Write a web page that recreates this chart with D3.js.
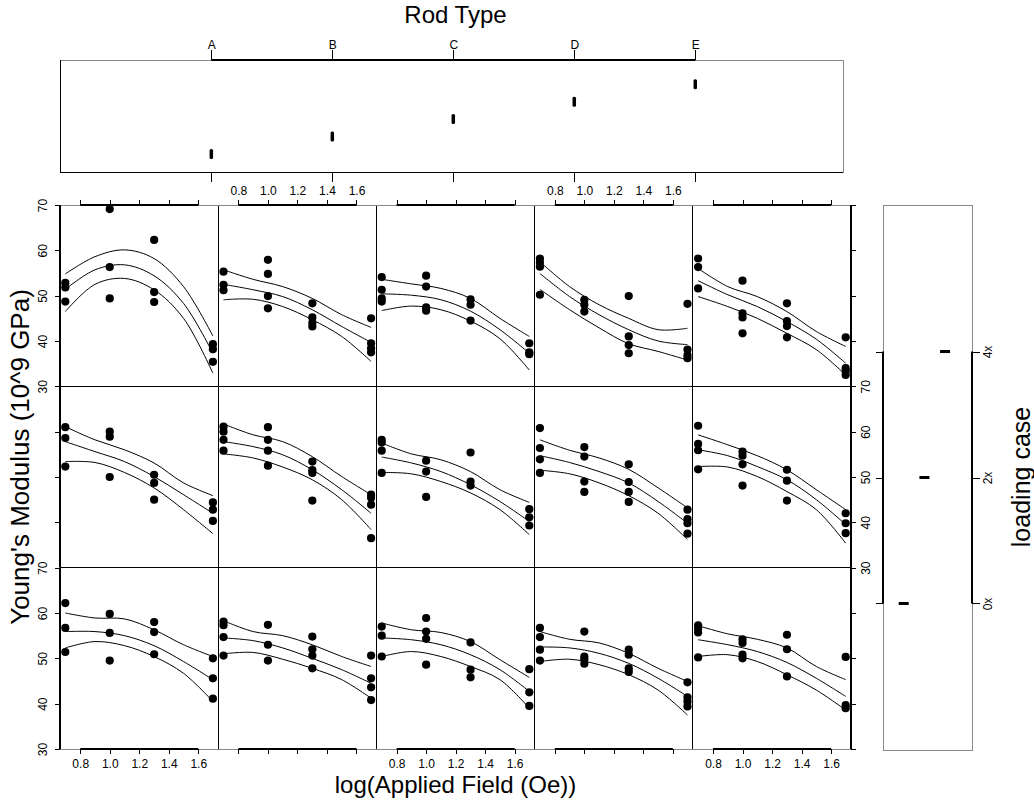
<!DOCTYPE html>
<meta charset="utf-8">
<style>
body { margin: 0; background: #fff; }
text { font-family: "Liberation Sans", Arial, Helvetica, sans-serif; fill: #000; }
.title { text-anchor: middle; }
</style>
<svg width="1034" height="807"></svg>
<script src="https://d3js.org/d3.v7.min.js"></script>
<script>

var rodTypes = ["A", "B", "C", "D", "E"];
var loadCases = ["0x", "2x", "4x"];
var fieldLog = [0.699, 1.0, 1.301, 1.699];
var fitX = [0.699, 0.9, 1.1, 1.3, 1.5, 1.699];
var xTicks = [0.8, 1.0, 1.2, 1.4, 1.6];
var yTicks = [30, 40, 50, 60, 70];

// Young's modulus readings, per rod type, per field level
var modulus0x = [
  [[62.2, 56.7, 51.4], [59.8, 55.6, 49.5], [58.0, 55.8, 50.9], [50.0, 45.6, 41.1]],
  [[58.1, 57.3, 54.7, 50.6], [57.4, 53.0, 49.5], [54.8, 52.0, 50.6, 47.8], [50.6, 45.6, 43.6, 40.8]],
  [[57.0, 55.0, 50.4], [58.9, 55.9, 54.3, 48.6], [53.5, 47.5, 45.8], [47.6, 42.5, 39.5]],
  [[56.7, 54.7, 51.9, 49.5], [55.9, 50.4, 49.8, 48.8], [51.9, 50.8, 47.8, 47.0], [44.7, 41.4, 40.5, 39.4]],
  [[57.3, 56.5, 55.7, 50.2], [54.2, 53.4, 50.8, 50.0], [55.2, 52.0, 46.0], [50.3, 39.7, 39.0]]
];
var modulus2x = [
  [[61.0, 58.6, 52.3], [60.0, 58.9, 50.0], [50.5, 48.7, 45.0], [44.4, 42.8, 40.3]],
  [[61.1, 60.0, 58.2, 55.8], [61.0, 58.2, 55.8, 52.5], [53.4, 51.5, 50.9, 44.8], [46.1, 45.4, 43.9, 36.5]],
  [[58.2, 57.6, 55.8, 50.9], [53.6, 51.2, 45.6], [55.4, 49.0, 48.1], [42.9, 41.1, 39.3]],
  [[60.8, 56.4, 53.9, 50.9], [56.6, 54.5, 49.0, 46.7], [52.8, 48.9, 46.7, 44.5], [42.8, 40.7, 39.8, 37.5]],
  [[61.3, 57.3, 55.9, 51.7], [55.6, 54.7, 52.8, 48.1], [51.6, 49.2, 44.8], [42.0, 39.8, 37.6]]
];
var modulus4x = [
  [[52.8, 51.8, 48.7], [69.1, 56.3, 49.4], [62.3, 50.8, 48.6], [39.3, 38.2, 35.4]],
  [[55.3, 52.4, 51.2], [57.9, 54.8, 49.9, 47.2], [48.3, 45.2, 44.0, 43.2], [45.0, 39.5, 38.4, 37.5]],
  [[54.1, 51.3, 49.4, 48.7], [54.4, 52.0, 47.4, 46.7], [49.2, 48.0, 44.5], [39.5, 37.5, 37.1]],
  [[58.2, 57.3, 56.4, 50.2], [49.1, 48.0, 46.5], [49.9, 41.0, 39.1, 37.3], [48.2, 38.1, 36.9, 36.2]],
  [[58.2, 56.3, 51.6], [53.3, 46.1, 45.2, 41.7], [48.3, 44.4, 43.3, 40.8], [40.8, 34.0, 33.3, 32.5]]
];

// fitted curve with its upper / lower band, read at fitX
var fit0x = [
  [[60.0, 58.9, 58.7, 56.3, 53.0, 50.4], [55.9, 55.9, 55.0, 52.8, 49.3, 45.3], [52.3, 53.7, 52.8, 50.4, 46.7, 40.5]],
  [[58.3, 55.9, 55.0, 53.0, 50.4, 48.2], [54.5, 53.9, 52.3, 50.0, 47.5, 44.5], [51.0, 51.3, 49.8, 47.8, 45.3, 41.2]],
  [[57.8, 56.3, 55.7, 53.7, 49.7, 45.8], [54.5, 54.1, 53.0, 50.8, 47.5, 42.7], [50.4, 51.5, 50.4, 48.2, 45.3, 39.0]],
  [[55.9, 54.2, 53.4, 51.1, 47.8, 44.9], [52.5, 52.3, 51.1, 48.9, 45.6, 41.6], [49.3, 49.8, 48.6, 46.4, 43.0, 37.5]],
  [[57.2, 55.4, 54.2, 52.3, 48.2, 45.3], [54.1, 53.0, 51.5, 49.1, 45.6, 41.6], [50.4, 50.8, 49.3, 46.4, 43.0, 38.6]]
];
var fit2x = [
  [[61.1, 58.2, 56.0, 53.1, 48.7, 45.9], [57.8, 55.6, 53.4, 50.1, 46.1, 42.0], [53.4, 53.2, 51.0, 47.6, 42.8, 37.5]],
  [[61.7, 59.3, 57.8, 54.5, 50.1, 46.1], [57.8, 56.7, 54.9, 51.6, 47.2, 42.0], [55.1, 54.2, 52.2, 49.4, 45.0, 38.4]],
  [[57.5, 55.1, 53.8, 51.2, 47.2, 44.4], [54.4, 53.1, 51.2, 48.3, 44.6, 40.2], [51.0, 50.7, 49.0, 46.5, 42.8, 37.3]],
  [[58.2, 55.9, 54.2, 51.7, 47.6, 43.2], [54.7, 53.2, 51.2, 48.7, 44.6, 39.8], [51.5, 50.7, 48.7, 45.9, 42.0, 36.2]],
  [[59.3, 57.1, 54.7, 51.6, 47.2, 42.8], [56.0, 54.7, 52.3, 49.4, 45.0, 39.5], [52.3, 52.2, 50.1, 46.8, 42.8, 35.4]]
];
var fit4x = [
  [[54.8, 58.6, 60.1, 58.2, 52.0, 41.1], [51.4, 55.7, 56.8, 54.4, 48.3, 37.3], [46.5, 52.5, 53.8, 51.3, 45.0, 32.9]],
  [[55.7, 53.6, 52.0, 49.4, 45.8, 43.0], [52.5, 51.3, 49.8, 46.9, 43.2, 39.7], [49.1, 49.2, 47.6, 44.7, 41.0, 35.5]],
  [[53.6, 52.6, 51.6, 49.4, 45.0, 41.0], [50.4, 50.1, 49.1, 46.6, 42.5, 37.3], [46.7, 47.7, 46.9, 44.4, 40.5, 33.6]],
  [[57.5, 52.0, 48.0, 45.0, 42.5, 42.8], [54.9, 49.8, 45.8, 42.5, 40.0, 39.2], [51.4, 46.9, 42.9, 39.4, 37.7, 35.8]],
  [[56.0, 52.0, 49.8, 46.5, 42.1, 38.8], [53.3, 50.2, 47.6, 44.3, 40.4, 35.1], [49.8, 47.6, 45.0, 41.7, 38.1, 32.5]]
];

// marginal strips
var rodLevel = [1, 2, 3, 4, 5];
var loadLevel = [1, 2, 3];

var svg = d3.select("svg"),
    pLeft = 60, pRight = 851, pTop = 205, pBottom = 749,
    pw = (pRight - pLeft) / rodTypes.length,
    ph = (pBottom - pTop) / loadCases.length,
    font = "'Liberation Sans', Arial, Helvetica, sans-serif",
    blank = function() { return ""; };

svg.append("rect").attr("width", 1034).attr("height", 807).attr("fill", "#fff");

var x = d3.scaleLinear().domain([fieldLog[0] - 0.036, fieldLog[3] + 0.036]).range([0, pw]),
    y = d3.scaleLinear().domain([30, 70]).range([ph, 0]);

var line = d3.line()
    .x(function(d, i) { return x(fitX[i]); })
    .y(function(d) { return y(d); })
    .curve(d3.curveCatmullRom.alpha(0.5));

var points = [modulus0x, modulus2x, modulus4x],
    fits = [fit0x, fit2x, fit4x];

// panels
loadCases.forEach(function(lc, li) {
  var row = loadCases.length - 1 - li;
  rodTypes.forEach(function(rod, ci) {
    var g = svg.append("g")
        .attr("transform", "translate(" + (pLeft + ci * pw) + "," + (pTop + row * ph) + ")");

    fits[li][ci].forEach(function(f) {
      g.append("path").attr("d", line(f))
          .attr("fill", "none").attr("stroke", "#000").attr("stroke-width", 1);
    });

    points[li][ci].forEach(function(vals, fi) {
      g.selectAll(null).data(vals).enter().append("circle")
          .attr("cx", x(fieldLog[fi]))
          .attr("cy", function(d) { return y(d); })
          .attr("r", 4.1)
          .attr("fill", "#000");
    });
  });
});

// frame: inner lines black, outer box grey
var frame = svg.append("g").attr("shape-rendering", "crispEdges").attr("stroke", "#000");
for (var c = 1; c < rodTypes.length; c++) {
  frame.append("line").attr("x1", pLeft + c * pw).attr("x2", pLeft + c * pw).attr("y1", pTop).attr("y2", pBottom);
}
for (var r = 1; r < loadCases.length; r++) {
  frame.append("line").attr("x1", pLeft).attr("x2", pRight).attr("y1", pTop + r * ph).attr("y2", pTop + r * ph);
}
frame.append("rect").attr("x", pLeft).attr("y", pTop).attr("width", pRight - pLeft).attr("height", pBottom - pTop)
    .attr("fill", "none").attr("stroke", "#888");

function tidy(g) {
  g.select(".domain").remove();
  g.attr("font-size", 12).attr("font-family", font);
  g.selectAll(".tick line").attr("shape-rendering", "crispEdges");
  return g;
}
function axisLine(g, x1, y1, x2, y2) {
  g.append("line").attr("x1", x1).attr("y1", y1).attr("x2", x2).attr("y2", y2)
      .attr("stroke", "#000").attr("stroke-width", 2);
}

// x axes, labels alternate bottom / top
rodTypes.forEach(function(rod, ci) {
  var x0 = pLeft + ci * pw, onBottom = ci % 2 === 0;
  var ab = svg.append("g").attr("transform", "translate(" + x0 + "," + pBottom + ")")
      .call(d3.axisBottom(x).tickValues(xTicks).tickSize(5).tickPadding(5)
        .tickFormat(onBottom ? d3.format(".1f") : blank));
  tidy(ab); axisLine(ab, x(xTicks[0]), 0, x(xTicks[4]), 0);
  var at = svg.append("g").attr("transform", "translate(" + x0 + "," + pTop + ")")
      .call(d3.axisTop(x).tickValues(xTicks).tickSize(5).tickPadding(5)
        .tickFormat(onBottom ? blank : d3.format(".1f")));
  tidy(at); axisLine(at, x(xTicks[0]), 0, x(xTicks[4]), 0);
});

// y axes, labels alternate left / right
loadCases.forEach(function(lc, li) {
  var row = loadCases.length - 1 - li, y0 = pTop + row * ph, onLeft = row !== 1;
  var al = svg.append("g").attr("transform", "translate(" + pLeft + "," + y0 + ")")
      .call(d3.axisLeft(y).tickValues(yTicks).tickSize(5).tickFormat(onLeft ? d3.format("d") : blank));
  tidy(al); axisLine(al, 0, y(30), 0, y(70));
  al.selectAll(".tick text").attr("x", null).attr("dy", null).attr("text-anchor", "middle")
      .attr("transform", "translate(-13,0) rotate(-90)");
  var ar = svg.append("g").attr("transform", "translate(" + pRight + "," + y0 + ")")
      .call(d3.axisRight(y).tickValues(yTicks).tickSize(5).tickFormat(onLeft ? blank : d3.format("d")));
  tidy(ar); axisLine(ar, 0, y(30), 0, y(70));
  ar.selectAll(".tick text").attr("x", null).attr("dy", null).attr("text-anchor", "middle")
      .attr("transform", "translate(19,0) rotate(-90)");
});

// top strip: rod type
var rodX = d3.scalePoint().domain(rodTypes).range([60, 843]).padding(1.236).align(0.506),
    rodY = d3.scaleLinear().domain([-0.034, 6.39]).range([172, 60]);

var topBox = svg.append("g").attr("shape-rendering", "crispEdges");
topBox.append("rect").attr("x", 60).attr("y", 60).attr("width", 783).attr("height", 112)
    .attr("fill", "none").attr("stroke", "#888");
topBox.append("line").attr("x1", 60).attr("x2", 60).attr("y1", 60).attr("y2", 172).attr("stroke", "#000");
topBox.append("line").attr("x1", 60).attr("x2", 843).attr("y1", 172).attr("y2", 172).attr("stroke", "#000");

svg.append("g").selectAll("rect").data(rodTypes).enter().append("rect")
    .attr("x", function(d) { return rodX(d) - 1.75; })
    .attr("y", function(d, i) { return rodY(rodLevel[i]) - 5; })
    .attr("width", 3.5).attr("height", 10).attr("rx", 1.5)
    .attr("fill", "#000");

var rt = svg.append("g").attr("transform", "translate(0,60)")
    .call(d3.axisTop(rodX).tickSize(10).tickPadding(1));
tidy(rt); axisLine(rt, rodX("A"), 0, rodX("E"), 0);
var rb = svg.append("g").attr("transform", "translate(0,172)")
    .call(d3.axisBottom(rodX).tickSize(9.5).tickFormat(blank));
tidy(rb);

// right strip: loading case
var loadY = d3.scalePoint().domain(loadCases).range([750, 205]).padding(1.163),
    loadX = d3.scaleLinear().domain([0, 4.3]).range([883, 972]);

svg.append("rect").attr("x", 883).attr("y", 205).attr("width", 89).attr("height", 545)
    .attr("fill", "none").attr("stroke", "#888").attr("shape-rendering", "crispEdges");

svg.append("g").selectAll("rect").data(loadCases).enter().append("rect")
    .attr("x", function(d, i) { return loadX(loadLevel[i]) - 5; })
    .attr("y", function(d) { return loadY(d) - 1.5; })
    .attr("width", 10).attr("height", 3)
    .attr("fill", "#000");

var ll = svg.append("g").attr("transform", "translate(883,0)")
    .call(d3.axisLeft(loadY).tickSize(7.5).tickFormat(blank));
tidy(ll); axisLine(ll, 0, loadY("0x"), 0, loadY("4x"));
var lr = svg.append("g").attr("transform", "translate(972,0)")
    .call(d3.axisRight(loadY).tickSize(7.5));
tidy(lr); axisLine(lr, 0, loadY("0x"), 0, loadY("4x"));
lr.selectAll(".tick text").attr("x", null).attr("dy", null).attr("text-anchor", "middle")
    .attr("transform", "translate(20,0) rotate(-90)");

// titles
svg.append("text").attr("class", "title").attr("x", 455.5).attr("y", 23)
    .attr("font-size", 24).text("Rod Type");
svg.append("text").attr("class", "title").attr("x", 455.5).attr("y", 793)
    .attr("font-size", 24).text("log(Applied Field (Oe))");
svg.append("text").attr("class", "title")
    .attr("transform", "translate(29,457) rotate(-90)")
    .attr("font-size", 26).text("Young's Modulus (10^9 GPa)");
svg.append("text").attr("class", "title")
    .attr("transform", "translate(1030,477) rotate(-90)")
    .attr("font-size", 25).text("loading case");

</script>
